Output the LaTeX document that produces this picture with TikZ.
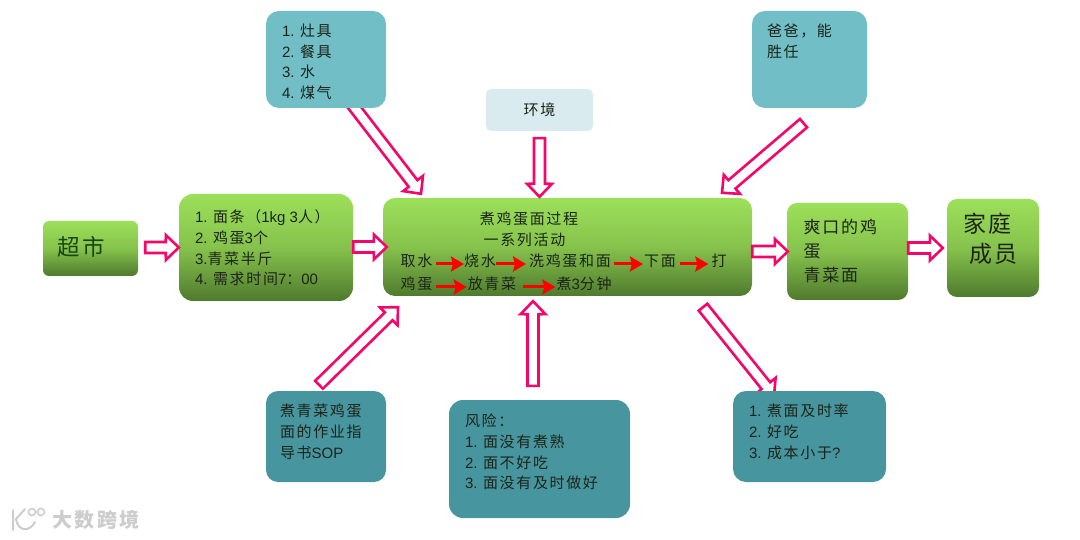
\documentclass[tikz,border=0pt]{standalone}
\usepackage{fontspec}
\setmainfont{Liberation Sans}
\newfontfamily\cjk[LetterSpace=11]{Noto Sans CJK SC}
\usetikzlibrary{calc, backgrounds, arrows.meta}
\definecolor{greentop}{HTML}{9CE05A}
\definecolor{greenmid}{HTML}{86C24C}
\definecolor{greenbot}{HTML}{4F7A2E}
\definecolor{tealpale}{HTML}{DAEBEF}
\definecolor{teallight}{HTML}{72BEC7}
\definecolor{tealdark}{HTML}{47959F}
\definecolor{arrowpink}{HTML}{F5076A}
\definecolor{txtblack}{HTML}{1C2418}
\newcommand{\en}[1]{{\rmfamily #1}}
\newcommand{\boxtext}[3]{\begin{minipage}[t][#2pt][t]{#1pt}#3\end{minipage}}

\begin{document}
\begin{tikzpicture}[
    x=1pt, y=-1pt,
    every node/.style={font=\cjk\fontsize{15}{20.7}\selectfont, text=txtblack, inner sep=0pt},
    greenbox/.style={top color=greentop, bottom color=greenbot, middle color=greenmid},
    lighttealbox/.style={fill=teallight},
    darktealbox/.style={fill=tealdark},
    bigtxt/.style={font=\cjk\fontsize{22.5}{30}\selectfont, text=txtblack!85!green},
    blockarr/.style={draw=arrowpink, line width=2.6pt, fill=white, line join=miter, to path={
        ($(\tikztostart)!5.5pt!90:(\tikztotarget)$)
        -- ($(\tikztotarget)!14.12pt!-22.9:(\tikztostart)$)
        -- ($(\tikztotarget)!18.03pt!-43.88:(\tikztostart)$)
        -- (\tikztotarget)
        -- ($(\tikztotarget)!18.03pt!43.88:(\tikztostart)$)
        -- ($(\tikztotarget)!14.12pt!22.9:(\tikztostart)$)
        -- ($(\tikztostart)!5.5pt!-90:(\tikztotarget)$)
        -- cycle}},
    redarr/.style={-{Stealth[length=13pt, width=15pt, inset=2pt]}, draw=red, line width=3pt}
]
    \useasboundingbox (0,0) rectangle (1080,540);

    % main row
    \node[greenbox, rounded corners=6pt, minimum width=95, minimum height=55, bigtxt] (chaoshi) at (90.5,248.5) {\raisebox{5pt}{超市}\hspace*{18pt}};
    \node[greenbox, rounded corners=14pt, minimum width=174, minimum height=107] (miantiao) at (266,247.5)
        {\boxtext{142}{75}{\en{1. }面条（\en{1kg 3}人）\\\en{2. }鸡蛋\en{3}个\\\en{3.}青菜半斤\\\en{4. }需求时间\en{7}：\en{00}}};
    \node[greenbox, rounded corners=12pt, minimum width=369, minimum height=98] (guocheng) at (567.5,247) {};
    \node[greenbox, rounded corners=10pt, minimum width=121, minimum height=97] (shuangkou) at (847.5,251.5)
        {\boxtext{88}{65}{\fontsize{17}{24}\selectfont 爽口的鸡\\蛋\\青菜面}};
    \node[greenbox, rounded corners=10pt, minimum width=92, minimum height=98] (jiating) at (993,248)
        {\boxtext{60}{70}{\fontsize{23}{30}\selectfont 家庭\\\hspace*{6pt}成员}};

    % text inside the process box
    \node (title1) at (529,219) {煮鸡蛋面过程};
    \node (title2) at (524.5,240) {一系列活动};
    \node (qushui) at (416.5,261) {取水};
    \node (shaoshui) at (480,261) {烧水};
    \node (xidan) at (570,261) {洗鸡蛋和面};
    \node (xiamian) at (660,261) {下面};
    \node (da) at (719,261) {打};
    \node (jidan) at (416.5,284) {鸡蛋};
    \node (fangcai) at (492,284) {放青菜};
    \node (zhu) at (584,284) {煮\en{3}分钟};

    \draw[redarr] ($(qushui.east)+(3,3)$) -- ($(shaoshui.west)+(0,3)$);
    \draw[redarr] ($(shaoshui.east)+(0,3)$) -- ($(xidan.west)+(-3,3)$);
    \draw[redarr] ($(xidan.east)+(3,3)$) -- ($(xiamian.west)+(-1,3)$);
    \draw[redarr] ($(xiamian.east)+(4,3)$) -- ($(da.west)+(-3,3)$);
    \draw[redarr] ($(jidan.east)+(3,3)$) -- ($(fangcai.west)+(-1,3)$);
    \draw[redarr] ($(fangcai.east)+(7,3)$) -- ($(zhu.west)+(-1,3)$);

    % top row
    \node[lighttealbox, rounded corners=13pt, minimum width=120, minimum height=97] (zaoju) at (326,59.5)
        {\boxtext{88}{71}{\en{1. }灶具\\\en{2. }餐具\\\en{3. }水\\\en{4. }煤气}};
    \node[fill=tealpale, rounded corners=5pt, minimum width=107, minimum height=42] (huanjing) at (539.5,110) {\raisebox{2pt}{环境}};
    \node[lighttealbox, rounded corners=13pt, minimum width=115, minimum height=97] (baba) at (809.5,59.5)
        {\boxtext{85}{71}{爸爸，能\\胜任}};

    % bottom row
    \node[darktealbox, rounded corners=12pt, minimum width=120, minimum height=91] (sop) at (326,436.5)
        {\boxtext{92}{65}{煮青菜鸡蛋\\面的作业指\\导书\en{SOP}}};
    \node[darktealbox, rounded corners=14pt, minimum width=181, minimum height=118] (fengxian) at (539.5,459)
        {\boxtext{149}{90}{风险：\\\en{1. }面没有煮熟\\\en{2. }面不好吃\\\en{3. }面没有及时做好}};
    \node[darktealbox, rounded corners=13pt, minimum width=153, minimum height=91] (kpi) at (809.5,436.5)
        {\boxtext{121}{65}{\en{1. }煮面及时率\\\en{2. }好吃\\\en{3. }成本小于\en{?}}};

    % block arrows
    \begin{scope}[on background layer]
        \draw[blockarr] ($(zaoju.south)+(26,-4)$) to ($(guocheng.north)+(-146.5,-4)$);
        \draw[blockarr] ($(guocheng.south)+(135.5,11)$) to ($(kpi.north)+(-35.5,5)$);
    \end{scope}
    \draw[blockarr] ($(chaoshi.east)+(7,-1)$) to (miantiao.west);
    \draw[blockarr] ($(miantiao.east)+(0,-0.5)$) to ($(guocheng.west)+(4,0)$);
    \draw[blockarr] ($(guocheng.east)+(0,4.5)$) to ($(shuangkou.west)+(1,0)$);
    \draw[blockarr] ($(shuangkou.east)+(0,-3.5)$) to ($(jiating.west)+(-4,0)$);
    \draw[blockarr] ($(huanjing.south)+(0,7)$) to ($(guocheng.north)+(-28,-1)$);
    \draw[blockarr] ($(baba.south)+(-6,15)$) to ($(guocheng.north)+(154.5,-5)$);
    \draw[blockarr] ($(sop.north)+(-7,-6)$) to ($(guocheng.south)+(-169.5,11)$);
    \draw[blockarr] ($(fengxian.north)+(-6.5,-14)$) to ($(guocheng.south)+(-34.5,5)$);

    % watermark
    \node[font=\cjk\bfseries\fontsize{20}{24}\selectfont, text=black!20] (logo) at (96,520) {大数跨境};
    \draw[black!20, line width=2pt, line cap=round] (13,510) -- (13,530) (25,509) -- (16,519) .. controls (18,532) and (30,532) .. (35,522);
    \draw[black!20, line width=1.5pt] (32,512) circle (3.5) (41,512) circle (3.5);
\end{tikzpicture}
\end{document}
